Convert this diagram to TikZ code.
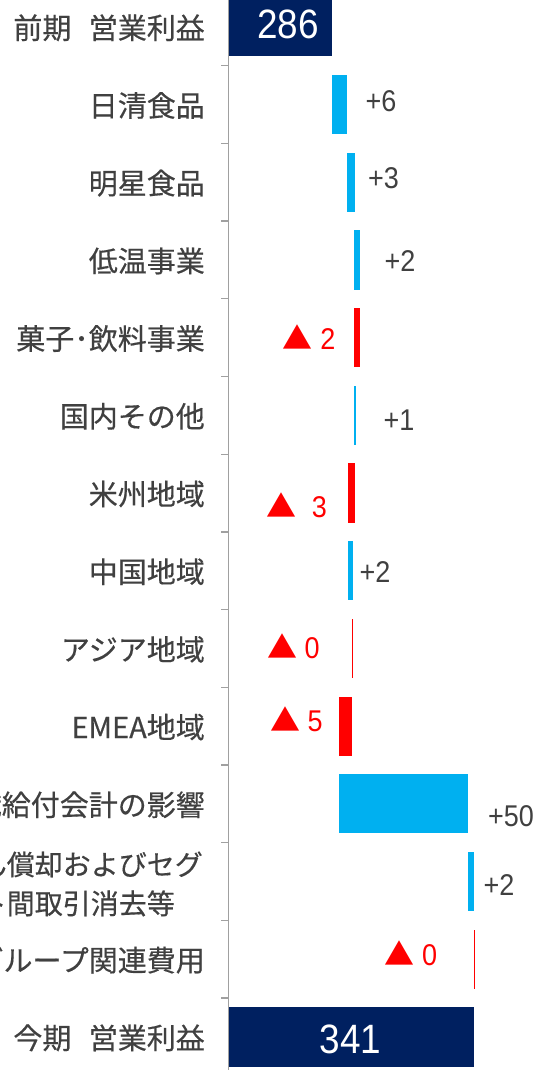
\documentclass[tikz,border=0pt]{standalone}
\usepackage{fontspec}
\setmainfont{Liberation Sans}
\newfontfamily\numfont[FakeStretch=0.9]{Liberation Sans}
\newfontfamily\cjk[FakeBold=0.4]{Noto Sans CJK JP}
\newfontfamily\cjktri{Noto Sans CJK JP}
\definecolor{barnavy}{HTML}{002060}
\definecolor{barup}{HTML}{00B0F0}
\definecolor{bardown}{HTML}{FF0000}
\definecolor{labelgray}{HTML}{404040}
\definecolor{axisgray}{HTML}{A0A0A0}

\begin{document}
\begin{tikzpicture}[x=1pt,y=-1pt,
  catlabel/.style={anchor=east,inner sep=0pt,text=labelgray,font=\cjk\fontsize{29}{39}\selectfont},
  uplabel/.style={anchor=base west,inner sep=0pt,text=labelgray,font=\numfont\fontsize{30}{36}\selectfont},
  downlabel/.style={anchor=base west,inner sep=0pt,text=bardown,font=\numfont\fontsize{30}{36}\selectfont},
  totlabel/.style={anchor=base,inner sep=0pt,text=white,font=\numfont\fontsize{41}{48}\selectfont},
  axisline/.style={draw=axisgray,line width=1.3pt}]
  \useasboundingbox (0,0) rectangle (539,1070);
  % axis and ticks
  \draw[axisline] (228.7,0) -- (228.7,1070);
  \draw[axisline] (221,65.65) -- (228.7,65.65) (221,143.35) -- (228.7,143.35)
    (221,221.05) -- (228.7,221.05) (221,298.75) -- (228.7,298.75)
    (221,376.45) -- (228.7,376.45) (221,454.15) -- (228.7,454.15)
    (221,531.85) -- (228.7,531.85) (221,609.55) -- (228.7,609.55)
    (221,687.25) -- (228.7,687.25) (221,764.95) -- (228.7,764.95)
    (221,842.65) -- (228.7,842.65) (221,920.35) -- (228.7,920.35)
    (221,998.05) -- (228.7,998.05);
  % bars
  \fill[barnavy] (229.3,-2.8) rectangle (331.7,56.4);
  \fill[barup] (332.3,74.9) rectangle (347.3,134.1);
  \fill[barup] (347.3,152.6) rectangle (354.7,211.8);
  \fill[barup] (354.3,230.3) rectangle (360,289.5);
  \fill[bardown] (354.3,308) rectangle (359.7,367.2);
  \fill[barup] (354.2,385.7) rectangle (355.5,444.9);
  \fill[bardown] (348,463.4) rectangle (355.3,522.6);
  \fill[barup] (348,541.1) rectangle (352.7,600.3);
  \fill[bardown] (352.3,618.8) rectangle (352.8,678);
  \fill[bardown] (339.3,696.5) rectangle (352.3,755.7);
  \fill[barup] (339.3,774.2) rectangle (468.3,833.4);
  \fill[barup] (468.3,851.9) rectangle (474.3,911.1);
  \fill[bardown] (474,929.6) rectangle (474.5,988.8);
  \fill[barnavy] (229.3,1007.3) rectangle (474.3,1066.5);
  % category labels
  \node[catlabel] (prev) at (205,27.8) {前期\hspace{0.6em}営業利益};
  \node[catlabel] (nissin) at (205,105.5) {日清食品};
  \node[catlabel] (myojo) at (205,183.2) {明星食品};
  \node[catlabel] (chilled) at (205,260.9) {低温事業};
  \node[catlabel] (confect) at (205,338.6) {菓子･飲料事業};
  \node[catlabel] (domestic) at (205,416.3) {国内その他};
  \node[catlabel] (americas) at (205,494) {米州地域};
  \node[catlabel] (china) at (205,571.7) {中国地域};
  \node[catlabel] (asia) at (205,649.4) {アジア地域};
  \node[catlabel] (emea) at (205,727.1) {EMEA地域};
  \node[catlabel] (retire) at (205,804.8) {退職給付会計の影響};
  \node[catlabel,align=left,font=\cjk\fontsize{28}{39}\selectfont] (goodwill) at (203,884) {のれん償却およびセグ\\メント間取引消去等};
  \node[catlabel] (group) at (205,960.2) {グループ関連費用};
  \node[catlabel] (curr) at (205,1037.9) {今期\hspace{0.6em}営業利益};
  % value labels
  \node[totlabel] (prevval) at (287.8,39) {286};
  \node[uplabel] (nissinval) at (365.5,111.7) {+6};
  \node[uplabel] (myojoval) at (368,188.3) {+3};
  \node[uplabel] (chilledval) at (384.5,271.7) {+2};
  \node[downlabel] (confectval) at (282.6,349.3) {{\cjktri ▲} 2};
  \node[uplabel] (domesticval) at (383.5,430) {+1};
  \node[downlabel] (americasval) at (266.6,517.7) {{\cjktri ▲} \ 3};
  \node[uplabel] (chinaval) at (359.5,582) {+2};
  \node[downlabel] (asiaval) at (266.9,658.3) {{\cjktri ▲} 0};
  \node[downlabel] (emeaval) at (269.9,731.7) {{\cjktri ▲} 5};
  \node[uplabel] (retireval) at (488,826.7) {+50};
  \node[uplabel] (goodwillval) at (483.5,895) {+2};
  \node[downlabel] (groupval) at (384.3,965) {{\cjktri ▲} 0};
  \node[totlabel] (currval) at (350.5,1053.3) {341};
\end{tikzpicture}
\end{document}
